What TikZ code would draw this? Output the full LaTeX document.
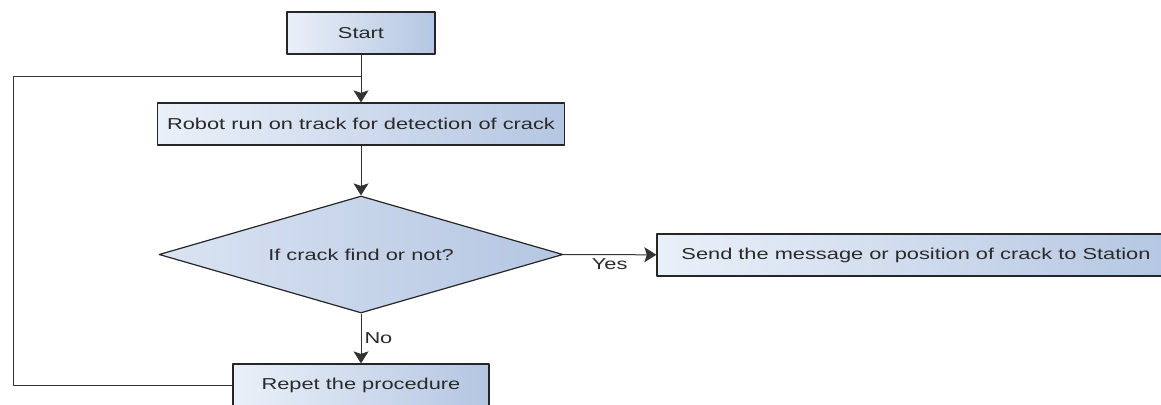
\documentclass[tikz,border=0pt]{standalone}
\usepackage{fontspec}
\newfontfamily\flowfont[FakeStretch=1.38]{Liberation Sans}
\usetikzlibrary{arrows.meta,shapes.geometric,positioning}
\definecolor{boxlight}{HTML}{EAF0F9}
\definecolor{boxdark}{HTML}{B4C6E2}
\definecolor{inktext}{HTML}{2A2A2A}
\tikzset{
	box/.style={draw=black!85, line width=1.2pt, left color=boxlight, right color=boxdark,
		minimum height=42pt, inner sep=0pt, text=inktext},
	decision/.style={box, diamond, aspect=3.45, minimum width=404pt, minimum height=117pt,
		left color=boxlight!70!boxdark},
	link/.style={draw=black!80, line width=1pt},
	tag/.style={text=inktext, inner sep=3pt}
}
\begin{document}
\begin{tikzpicture}[x=1pt, y=-1pt, font=\flowfont\fontsize{15.8}{18}\selectfont, line join=round, >={Stealth[length=12pt,width=15pt,inset=2.5pt]}]
			\useasboundingbox (0,0) rectangle (1161,404);
			\node[box, minimum width=148pt] (start) at (361,33) {Start};
			\node[box, minimum width=407pt] (robot) at (361,124) {Robot run on track for detection of crack};
			\node[decision] (check) at (361,254.5) {If crack find or not?};
			\node[box, minimum width=518pt] (send) at (916,255) {Send the message or position of crack to Station};
			\node[box, minimum width=256pt] (repeat) at (361,385) {Repet the procedure};
			\coordinate (join) at (361,76);
			\coordinate (turn) at (13,76);
			\draw[link,->] (start) -- (robot);
			\draw[link,->] (robot) -- (check);
			\draw[link,->] (check) -- node[tag, below]{Yes} (send);
			\draw[link,->] (check) -- node[tag, right]{No} (repeat);
			\draw[link] (repeat.west) -| (turn) -- (join);
	\end{tikzpicture}
\end{document}
